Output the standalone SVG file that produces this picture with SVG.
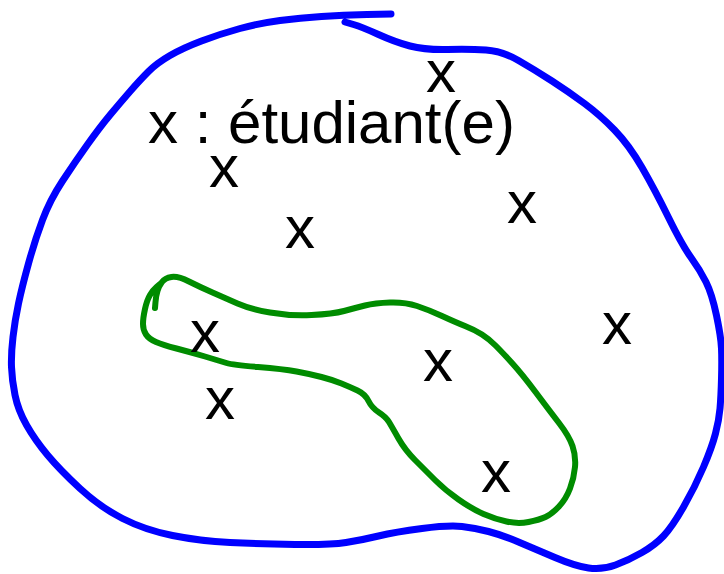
<svg xmlns="http://www.w3.org/2000/svg" width="724" height="574" viewBox="0 0 724 574">
<style>
.stroke{fill:none;stroke-linecap:round;stroke-linejoin:round}
.blue{stroke:#0000ff;stroke-width:7}
.green{stroke:#008c00;stroke-width:6}
text{font-family:"Liberation Sans",Arial,sans-serif;font-size:60px;fill:#000}
.m{text-anchor:middle}
</style>
<rect width="724" height="574" fill="#fff"/>
<g id="ensemble">
<path class="stroke blue" d="M391,14 L367,14.5 Q343,15 321.5,16.5 Q300,18 280,20.5 Q260,23 240,28.5 Q220,34 201.5,41 Q183,48 170,55.5 Q157,63 148.5,71.5 Q140,80 130,91.5 Q120,103 110,115 Q100,127 87.5,144.5 Q75,162 62.5,181 Q50,200 42.5,220 Q35,240 28.5,263.5 Q22,287 18.5,303.5 Q15,320 13,337 Q11,354 11.5,367 Q12,380 15,395 Q18,410 26.5,425 Q35,440 47.5,455 Q60,470 80,488.5 Q100,507 122.5,518.5 Q145,530 172.5,535.5 Q200,541 230,542.5 Q260,544 295,544.5 Q330,545 346,542.5 Q362,540 378.5,536 Q395,532 422,528.5 Q449,525 462,526.5 Q475,528 488.5,531.5 Q502,535 518.5,542 Q535,549 555,557.5 Q575,566 588.5,568 Q602,570 615.5,565 Q629,560 642,552.5 Q655,545 663.5,536 Q672,527 683.5,507 Q695,487 703.5,467 Q712,447 715.5,433.5 Q719,420 720,408.5 Q721,397 721.5,378.5 Q722,360 721.5,348.5 Q721,337 716.5,315.5 Q712,294 706,282 Q700,270 691,257.5 Q682,245 668.5,217.5 Q655,190 642,167.5 Q629,145 614.5,130 Q600,115 584.5,103.5 Q569,92 552,81 Q535,70 518.5,60.5 Q502,51 486,50 Q470,49 447.5,49.5 Q425,50 410,46 Q395,42 378.5,34.5 Q362,27 353.5,24.5 L345,22"/>
</g>
<g id="sous-ensemble">
<path class="stroke green" d="M155,308 L155.5,302 Q156,296 157.5,291 Q159,286 162,282 Q165,278 171.5,277 Q178,276 189,281.5 Q200,287 212.5,292.5 Q225,298 237.5,303.5 Q250,309 270,312.5 Q290,316 311.5,315 Q333,314 344,311 Q355,308 365,305.5 Q375,303 390,302.5 Q405,302 417,306 Q429,310 442,316 Q455,322 465,326 Q475,330 482,334.5 Q489,339 495.5,345.5 Q502,352 512,363 Q522,374 535.5,392 Q549,410 559,423 Q569,436 572.5,446 Q576,456 575,467 Q574,478 570,488.5 Q566,499 559,506.5 Q552,514 545.5,517 Q539,520 528.5,522 Q518,524 506.5,521.5 Q495,519 483.5,514 Q472,509 458.5,499.5 Q445,490 435,480 Q425,470 415,460 Q405,450 398.5,438.5 Q392,427 389,422 Q386,417 379,412.5 Q372,408 368.5,401 Q365,394 357.5,390.5 Q350,387 341.5,383.5 Q333,380 321.5,377 Q310,374 296.5,371.5 Q283,369 258,367 Q233,365 226.5,363 Q220,361 205,356.5 Q190,352 176.5,348.5 Q163,345 156,342 Q149,339 146,334.5 Q143,330 143,324 Q143,318 145,309 Q147,300 150,295 Q153,290 156.5,287 L160,284"/>
</g>
<g id="legende"><text x="148" y="143">x : étudiant(e)</text></g>
<g id="elements">
<text class="m" x="224" y="187">x</text>
<text class="m" x="300" y="248">x</text>
<text class="m" x="441" y="92">x</text>
<text class="m" x="522" y="223">x</text>
<text class="m" x="617" y="344">x</text>
<text class="m" x="438" y="381">x</text>
<text class="m" x="496" y="492">x</text>
<text class="m" x="205" y="352">x</text>
<text class="m" x="220" y="419">x</text>
</g>
</svg>
